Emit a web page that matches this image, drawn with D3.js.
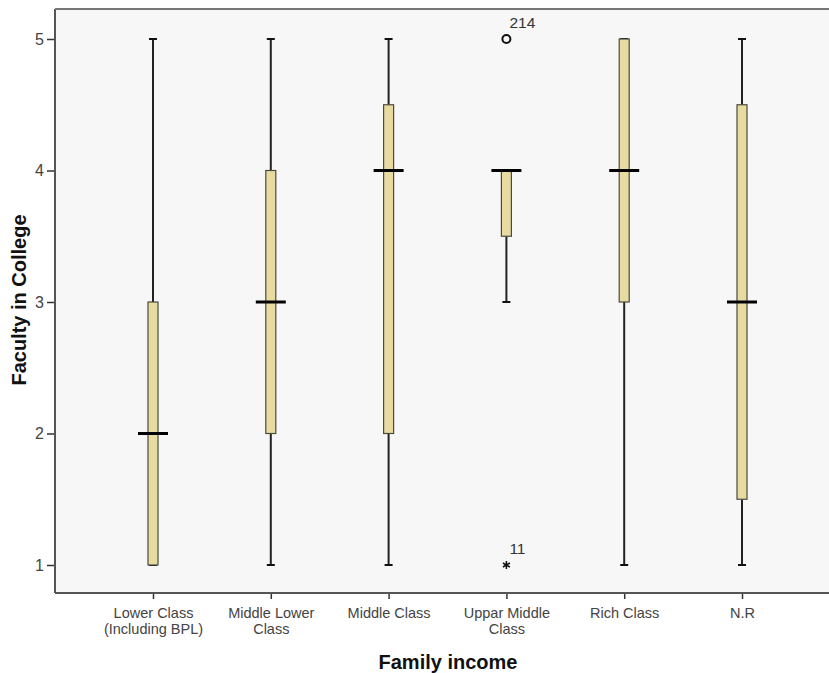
<!DOCTYPE html>
<html><head><meta charset="utf-8">
<script src="https://cdn.jsdelivr.net/npm/d3@7"></script>
<style>body{margin:0;background:#fff}svg{display:block}</style>
</head><body>
<svg id="c" width="829" height="673"></svg>
<script>
const categories = ["Lower Class|(Including BPL)", "Middle Lower|Class", "Middle Class", "Uppar Middle|Class", "Rich Class", "N.R"];
const whiskerLow = [1, 1, 1, 3, 1, 1];
const q1 = [1, 2, 2, 3.5, 3, 1.5];
const median = [2, 3, 4, 4, 4, 3];
const q3 = [3, 4, 4.5, 4, 5, 4.5];
const whiskerHigh = [5, 5, 5, 4, 5, 5];
const outliers = [{cat: 3, value: 5, label: "214", type: "circle"}, {cat: 3, value: 1, label: "11", type: "star"}];
const yTicks = [1, 2, 3, 4, 5];

const svg = d3.select("#c");
const L = 55, T = 9, R = 829, B = 593;
const FONT = "Arial, Liberation Sans, sans-serif";
const x = d3.scalePoint().domain(d3.range(categories.length)).range([153, 742]);
const y = d3.scaleLinear().domain([1, 5]).range([565, 39]);

svg.append("rect").attr("x", L).attr("y", T).attr("width", R - L).attr("height", B - T).attr("fill", "#f7f7f7");

const yAxis = svg.append("g").attr("transform", `translate(${L},0)`)
  .call(d3.axisLeft(y).tickValues(yTicks).tickFormat(d3.format("d")).tickSize(8).tickPadding(3));
yAxis.select(".domain").remove();
yAxis.selectAll("line").attr("stroke", "#333").attr("stroke-width", 1.5);
yAxis.selectAll("text").attr("fill", "#444").style("font-family", FONT).style("font-size", "16px");

const xAxis = svg.append("g").attr("transform", `translate(0,${B})`)
  .call(d3.axisBottom(x).tickSize(6).tickFormat(""));
xAxis.select(".domain").remove();
xAxis.selectAll("line").attr("stroke", "#333").attr("stroke-width", 1.5);
xAxis.selectAll(".tick").each(function(d) {
  const lines = categories[d].split("|");
  const t = d3.select(this).append("text").attr("fill", "#444").attr("text-anchor", "middle")
    .style("font-family", FONT).style("font-size", "14.5px");
  lines.forEach((s, i) => t.append("tspan").attr("x", 0).attr("y", 25 + i * 16).text(s));
});

svg.append("line").attr("x1", L).attr("x2", L).attr("y1", T).attr("y2", B).attr("stroke", "#555").attr("stroke-width", 2);
svg.append("line").attr("x1", L).attr("x2", R).attr("y1", T).attr("y2", T).attr("stroke", "#777").attr("stroke-width", 2);
svg.append("line").attr("x1", L).attr("x2", R).attr("y1", B).attr("y2", B).attr("stroke", "#555").attr("stroke-width", 2);

const g = svg.append("g");
categories.forEach((c, i) => {
  const cx = x(i);
  const gi = g.append("g");
  gi.append("line").attr("x1", cx).attr("x2", cx).attr("y1", y(whiskerHigh[i])).attr("y2", y(q3[i])).attr("stroke", "#222").attr("stroke-width", 2);
  gi.append("line").attr("x1", cx).attr("x2", cx).attr("y1", y(q1[i])).attr("y2", y(whiskerLow[i])).attr("stroke", "#222").attr("stroke-width", 2);
  gi.append("line").attr("x1", cx - 4).attr("x2", cx + 4).attr("y1", y(whiskerHigh[i])).attr("y2", y(whiskerHigh[i])).attr("stroke", "#111").attr("stroke-width", 2);
  gi.append("line").attr("x1", cx - 4).attr("x2", cx + 4).attr("y1", y(whiskerLow[i])).attr("y2", y(whiskerLow[i])).attr("stroke", "#111").attr("stroke-width", 2);
  gi.append("rect").attr("x", cx - 5).attr("width", 10).attr("y", y(q3[i])).attr("height", Math.max(0, y(q1[i]) - y(q3[i])))
    .attr("fill", "#e8dba0").attr("stroke", "#4a4a42").attr("stroke-width", 1.2);
  gi.append("line").attr("x1", cx - 15).attr("x2", cx + 15).attr("y1", y(median[i])).attr("y2", y(median[i])).attr("stroke", "#000").attr("stroke-width", 3);
});

outliers.forEach(o => {
  const cx = x(o.cat), cy = y(o.value);
  if (o.type === "circle") {
    svg.append("circle").attr("cx", cx).attr("cy", cy).attr("r", 4).attr("fill", "none").attr("stroke", "#111").attr("stroke-width", 2);
  } else {
    svg.append("path").attr("d", d3.symbol(d3.symbolAsterisk || d3.symbolStar, 45)()).attr("transform", `translate(${cx},${cy})`)
      .attr("fill", "#111").attr("stroke", "#111").attr("stroke-width", 1.5);
  }
  svg.append("text").attr("x", cx + 3).attr("y", cy - 11).attr("fill", "#333")
    .style("font-family", FONT).style("font-size", "15.5px").text(o.label);
});

svg.append("text").attr("x", 448).attr("y", 669).attr("text-anchor", "middle").attr("fill", "#111")
  .style("font-family", FONT).style("font-size", "20px").style("font-weight", "bold").text("Family income");
svg.append("text").attr("transform", "translate(26,300) rotate(-90)").attr("text-anchor", "middle").attr("fill", "#111")
  .style("font-family", FONT).style("font-size", "20px").style("font-weight", "bold").text("Faculty in College");
</script>
</body></html>
